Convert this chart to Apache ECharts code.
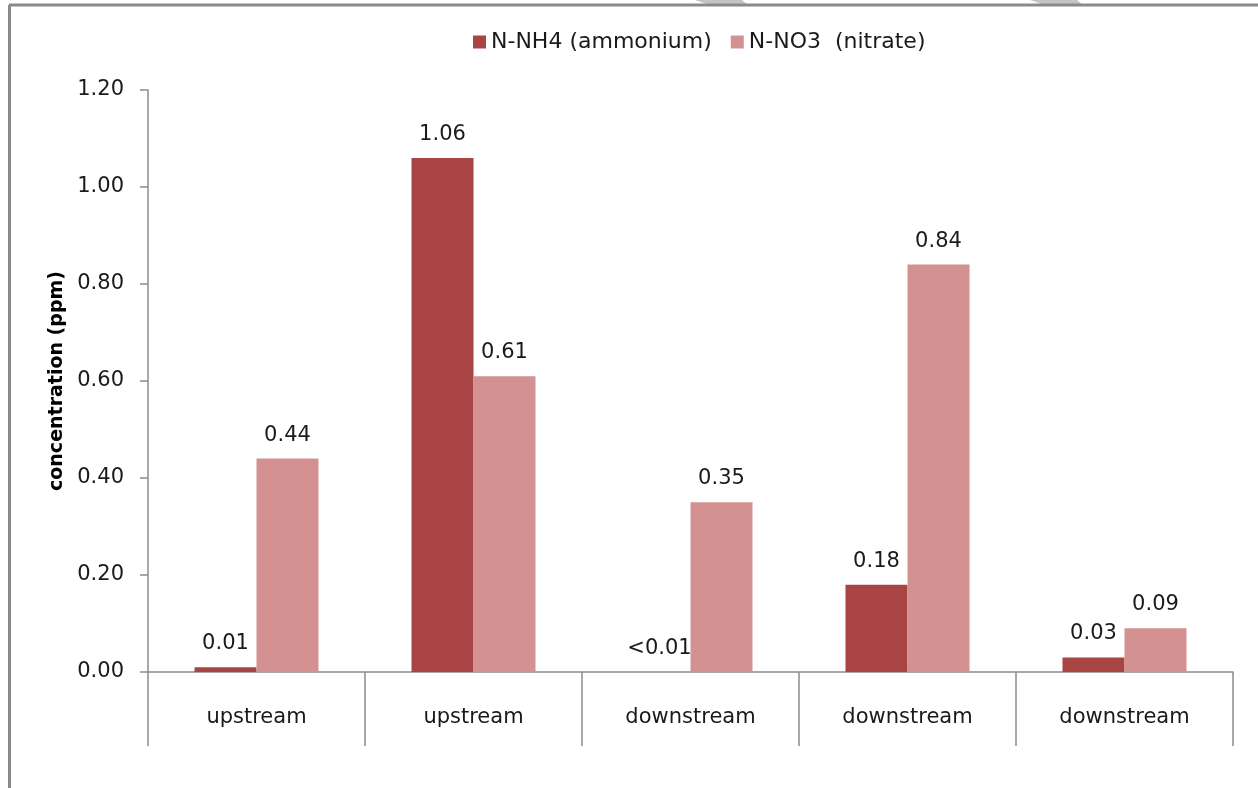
<!DOCTYPE html>
<html>
<head>
<meta charset="utf-8">
<script src="https://cdn.jsdelivr.net/npm/echarts@6/dist/echarts.min.js"></script>
<style>
  html, body { margin: 0; padding: 0; background: #fff; }
  #chart { width: 1258px; height: 788px; }
</style>
</head>
<body>
<div id="chart"></div>
<script>
// Sampling sites along the stream
const sites = ['upstream', 'upstream', 'downstream', 'downstream', 'downstream'];

// Measured concentrations (ppm)
const ammonium = [0.01, 1.06, 0, 0.18, 0.03];
const nitrate = [0.44, 0.61, 0.35, 0.84, 0.09];

// Printed value labels (below detection limit shown as "<0.01")
const ammoniumLabels = ['0.01', '1.06', '<0.01', '0.18', '0.03'];
const nitrateLabels = ['0.44', '0.61', '0.35', '0.84', '0.09'];

// Y axis ticks
const yTicks = [0, 0.2, 0.4, 0.6, 0.8, 1.0, 1.2];

const FONT = '"DejaVu Sans", sans-serif';
const AXIS = '#8c8c8c';
const TEXT = '#1a1a1a';

const chart = echarts.init(document.getElementById('chart'), null, { renderer: 'canvas' });

const labelStyle = (texts) => ({
  show: true,
  position: 'top',
  distance: 13,
  fontFamily: FONT,
  fontSize: 21,
  color: TEXT,
  formatter: (p) => texts[p.dataIndex]
});

chart.setOption({
  animation: false,
  backgroundColor: '#ffffff',
  textStyle: { fontFamily: FONT },
  graphic: [
    // page frame: top and left edges
    { type: 'line', shape: { x1: 9, y1: 5, x2: 1258, y2: 5 }, style: { stroke: '#8a8a8a', lineWidth: 3 }, z: 10 },
    { type: 'line', shape: { x1: 9.5, y1: 5, x2: 9.5, y2: 788 }, style: { stroke: '#8a8a8a', lineWidth: 3 }, z: 10 },
    // light shading marks along the top edge
    { type: 'polygon', shape: { points: [[695, 0], [742, 0], [748, 5], [710, 5]] }, style: { fill: '#c4c4c4' }, z: 9 },
    { type: 'polygon', shape: { points: [[1030, 0], [1077, 0], [1083, 5], [1045, 5]] }, style: { fill: '#c4c4c4' }, z: 9 }
  ],
  legend: {
    top: 26,
    left: 468,
    itemWidth: 13,
    itemHeight: 13,
    itemGap: 19,
    icon: 'rect',
    textStyle: { fontFamily: FONT, fontSize: 22, color: TEXT },
    data: ['N-NH4 (ammonium)', 'N-NO3  (nitrate)']
  },
  grid: { left: 148, right: 25, top: 90, bottom: 116, containLabel: false },
  xAxis: {
    type: 'category',
    data: sites,
    axisLine: { lineStyle: { color: AXIS, width: 1.5 } },
    axisTick: { show: true, length: 74, lineStyle: { color: AXIS, width: 1.5 } },
    axisLabel: { margin: 35, fontFamily: FONT, fontSize: 21, color: TEXT },
    splitLine: { show: false }
  },
  yAxis: {
    type: 'value',
    min: yTicks[0],
    max: yTicks[yTicks.length - 1],
    interval: 0.2,
    name: 'concentration (ppm)',
    nameLocation: 'middle',
    nameGap: 73,
    nameRotate: 90,
    nameTextStyle: { fontFamily: FONT, fontSize: 19, fontWeight: 'bold', color: '#000' },
    axisLine: { show: true, lineStyle: { color: AXIS, width: 1.5 } },
    axisTick: { show: true, length: 8, lineStyle: { color: AXIS, width: 1.5 } },
    axisLabel: {
      margin: 24,
      fontFamily: FONT,
      fontSize: 21,
      color: TEXT,
      formatter: (v) => v.toFixed(2)
    },
    splitLine: { show: false }
  },
  series: [
    {
      name: 'N-NH4 (ammonium)',
      type: 'bar',
      data: ammonium,
      barWidth: 62,
      barGap: '0%',
      itemStyle: { color: '#a84544' },
      label: labelStyle(ammoniumLabels)
    },
    {
      name: 'N-NO3  (nitrate)',
      type: 'bar',
      data: nitrate,
      barWidth: 62,
      barGap: '0%',
      itemStyle: { color: '#d39191' },
      label: labelStyle(nitrateLabels)
    }
  ]
});
</script>
</body>
</html>
